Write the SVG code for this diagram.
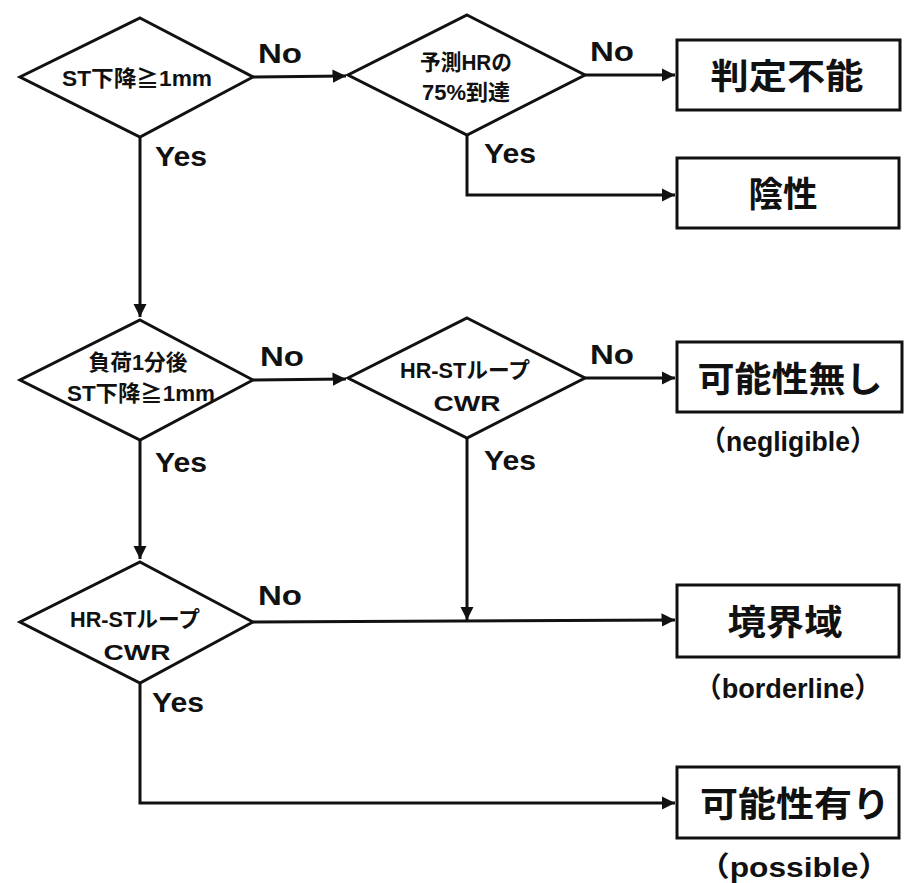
<svg xmlns="http://www.w3.org/2000/svg" width="910" height="883" viewBox="0 0 910 883">
<defs>
<marker id="ah" viewBox="0 0 10 10" refX="10" refY="5" markerWidth="4.5" markerHeight="4.5" markerUnits="strokeWidth" orient="auto">
<path d="M0,0 L10,5 L0,10 z" fill="#111"/>
</marker>
</defs>
<style>
.shape{fill:#fff;stroke:#111;stroke-width:3}
.conn{fill:none;stroke:#111;stroke-width:3}
.lbl{font-family:"Liberation Sans","Noto Sans CJK JP",sans-serif;font-weight:bold;font-size:27px;fill:#111}
.dt{font-family:"Liberation Sans","Noto Sans CJK JP",sans-serif;font-weight:bold;font-size:22px;fill:#111;text-anchor:middle}
.bt{font-family:"Noto Sans CJK JP",sans-serif;font-weight:bold;font-size:35px;fill:#111;text-anchor:middle}
.sub{font-family:"Liberation Sans","Noto Sans CJK JP",sans-serif;font-weight:bold;font-size:28px;fill:#111;text-anchor:middle}
</style>
<rect width="910" height="883" fill="#fff"/>
<g id="connectors">
<path class="conn" d="M253,77 L346,76" marker-end="url(#ah)"/>
<path class="conn" d="M585,75 L675,75" marker-end="url(#ah)"/>
<path class="conn" d="M467,135 L467,195 L675,195" marker-end="url(#ah)"/>
<path class="conn" d="M140,137 L140,317" marker-end="url(#ah)"/>
<path class="conn" d="M253,380 L346,379" marker-end="url(#ah)"/>
<path class="conn" d="M585,378 L675,378" marker-end="url(#ah)"/>
<path class="conn" d="M467,438 L467,620" marker-end="url(#ah)"/>
<path class="conn" d="M140,440 L140,559" marker-end="url(#ah)"/>
<path class="conn" d="M253,622 L675,620" marker-end="url(#ah)"/>
<path class="conn" d="M140,683 L140,803 L675,803" marker-end="url(#ah)"/>
<text class="lbl" x="258" y="63" textLength="44" lengthAdjust="spacingAndGlyphs">No</text>
<text class="lbl" x="590" y="61" textLength="44" lengthAdjust="spacingAndGlyphs">No</text>
<text class="lbl" x="484" y="163" textLength="52" lengthAdjust="spacingAndGlyphs">Yes</text>
<text class="lbl" x="155" y="166" textLength="52" lengthAdjust="spacingAndGlyphs">Yes</text>
<text class="lbl" x="260" y="366" textLength="44" lengthAdjust="spacingAndGlyphs">No</text>
<text class="lbl" x="590" y="364" textLength="44" lengthAdjust="spacingAndGlyphs">No</text>
<text class="lbl" x="484" y="470" textLength="52" lengthAdjust="spacingAndGlyphs">Yes</text>
<text class="lbl" x="155" y="472" textLength="52" lengthAdjust="spacingAndGlyphs">Yes</text>
<text class="lbl" x="258" y="605" textLength="44" lengthAdjust="spacingAndGlyphs">No</text>
<text class="lbl" x="152" y="712" textLength="52" lengthAdjust="spacingAndGlyphs">Yes</text>
</g>
<g id="d1">
<polygon class="shape" points="140,18 253,77 140,137 20,77"/>
<text class="dt" x="137" y="86" textLength="150" lengthAdjust="spacingAndGlyphs">ST下降≧1mm</text>
</g>
<g id="d2">
<polygon class="shape" points="467,15 585,75 467,135 348,75"/>
<text class="dt" x="466" y="70" textLength="92" lengthAdjust="spacingAndGlyphs">予測HRの</text>
<text class="dt" x="466" y="100" textLength="88" lengthAdjust="spacingAndGlyphs">75%到達</text>
</g>
<g id="d3">
<polygon class="shape" points="140,320 253,380 140,440 20,380"/>
<text class="dt" x="138" y="370" textLength="99" lengthAdjust="spacingAndGlyphs">負荷1分後</text>
<text class="dt" x="141" y="401" textLength="148" lengthAdjust="spacingAndGlyphs">ST下降≧1mm</text>
</g>
<g id="d4">
<polygon class="shape" points="467,318 585,378 467,438 348,378"/>
<text class="dt" x="465" y="378" textLength="130" lengthAdjust="spacingAndGlyphs">HR-STループ</text>
<text class="dt" x="467" y="411" font-size="26" textLength="67" lengthAdjust="spacingAndGlyphs">CWR</text>
</g>
<g id="d5">
<polygon class="shape" points="140,562 253,622 140,683 20,622"/>
<text class="dt" x="135" y="627" textLength="130" lengthAdjust="spacingAndGlyphs">HR-STループ</text>
<text class="dt" x="137" y="660" font-size="26" textLength="67" lengthAdjust="spacingAndGlyphs">CWR</text>
</g>
<g id="b1">
<rect class="shape" x="677" y="40" width="223" height="70"/>
<text class="bt" x="787" y="89" textLength="153" lengthAdjust="spacingAndGlyphs">判定不能</text>
</g>
<g id="b2">
<rect class="shape" x="677" y="158" width="222" height="70"/>
<text class="bt" x="783" y="207" textLength="69" lengthAdjust="spacingAndGlyphs">陰性</text>
</g>
<g id="b3">
<rect class="shape" x="677" y="342" width="225" height="70"/>
<text class="bt" x="790" y="392" textLength="185" lengthAdjust="spacingAndGlyphs">可能性無し</text>
<text class="sub" x="788" y="451" textLength="177" lengthAdjust="spacingAndGlyphs">（negligible）</text>
</g>
<g id="b4">
<rect class="shape" x="677" y="585" width="222" height="72"/>
<text class="bt" x="785" y="635" textLength="115" lengthAdjust="spacingAndGlyphs">境界域</text>
<text class="sub" x="788" y="698" textLength="187" lengthAdjust="spacingAndGlyphs">（borderline）</text>
</g>
<g id="b5">
<rect class="shape" x="677" y="767" width="222" height="71"/>
<text class="bt" x="795" y="817" textLength="190" lengthAdjust="spacingAndGlyphs">可能性有り</text>
<text class="sub" x="794" y="877" textLength="192" lengthAdjust="spacingAndGlyphs">（possible）</text>
</g>
</svg>
